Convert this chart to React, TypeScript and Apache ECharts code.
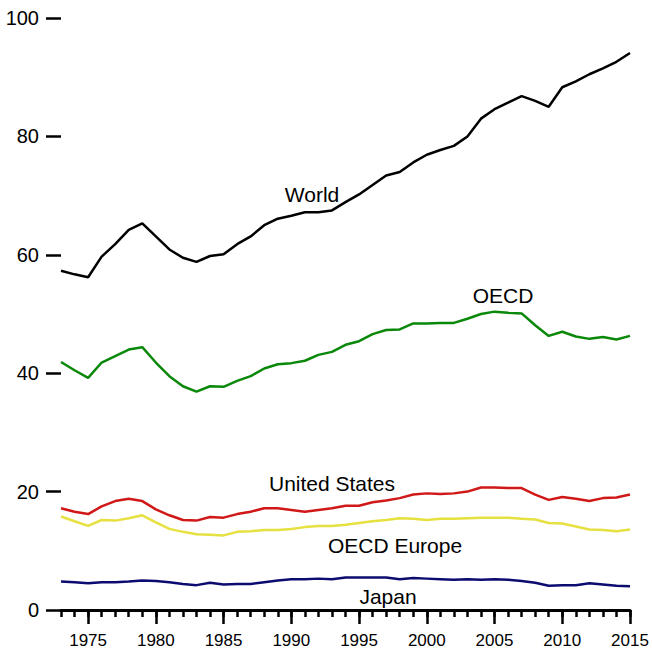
import React, { useEffect, useRef } from "react";
import * as echarts from "echarts";

const years: string[] = [];
for (let y = 1973; y <= 2015; y++) years.push(String(y));

const world = [57.3, 56.7, 56.2, 59.7, 61.8, 64.2, 65.3, 63.1, 60.9, 59.5, 58.8, 59.8, 60.1, 61.8, 63.1, 65.0, 66.1, 66.6, 67.2, 67.2, 67.5, 68.9, 70.2, 71.8, 73.4, 74.0, 75.6, 76.9, 77.7, 78.4, 80.0, 83.0, 84.6, 85.7, 86.8, 86.0, 85.0, 88.3, 89.3, 90.5, 91.5, 92.6, 94.1];
const oecd = [41.9, 40.5, 39.2, 41.8, 42.9, 44.0, 44.4, 41.8, 39.5, 37.8, 36.9, 37.8, 37.7, 38.7, 39.5, 40.8, 41.5, 41.7, 42.1, 43.1, 43.6, 44.8, 45.4, 46.6, 47.3, 47.4, 48.4, 48.4, 48.5, 48.5, 49.2, 50.0, 50.4, 50.2, 50.1, 48.1, 46.3, 47.0, 46.2, 45.8, 46.1, 45.7, 46.3];
const unitedStates = [17.2, 16.6, 16.2, 17.5, 18.4, 18.8, 18.4, 17.0, 16.0, 15.2, 15.1, 15.7, 15.6, 16.2, 16.6, 17.2, 17.2, 16.9, 16.6, 16.9, 17.2, 17.6, 17.6, 18.2, 18.5, 18.9, 19.5, 19.7, 19.6, 19.7, 20.0, 20.7, 20.7, 20.6, 20.6, 19.5, 18.6, 19.1, 18.8, 18.4, 18.9, 19.0, 19.5];
const oecdEurope = [15.8, 15.0, 14.2, 15.2, 15.1, 15.5, 16.0, 14.8, 13.7, 13.2, 12.8, 12.7, 12.6, 13.2, 13.3, 13.5, 13.5, 13.7, 14.0, 14.2, 14.2, 14.4, 14.7, 15.0, 15.2, 15.5, 15.4, 15.2, 15.4, 15.4, 15.5, 15.6, 15.6, 15.6, 15.4, 15.3, 14.7, 14.6, 14.1, 13.6, 13.5, 13.3, 13.6];
const japan = [4.8, 4.7, 4.5, 4.7, 4.7, 4.8, 5.0, 4.9, 4.7, 4.4, 4.2, 4.6, 4.3, 4.4, 4.4, 4.7, 5.0, 5.2, 5.2, 5.3, 5.2, 5.5, 5.5, 5.5, 5.5, 5.2, 5.4, 5.3, 5.2, 5.1, 5.2, 5.1, 5.2, 5.1, 4.9, 4.6, 4.1, 4.2, 4.2, 4.5, 4.3, 4.1, 4.0];

const seriesNames = ["World", "OECD", "United States", "OECD Europe", "Japan"];
const seriesData = [world, oecd, unitedStates, oecdEurope, japan];
const seriesColors = ["#000000", "#0a880a", "#d01818", "#e6e040", "#0c0c70"];
const labelPos: [number, number][] = [[312, 194], [503, 295], [332, 483], [395, 545], [388, 596]];

const FONT = "'Liberation Sans', Arial, sans-serif";

export default function App() {
  const ref = useRef<HTMLDivElement>(null);
  useEffect(() => {
    if (!ref.current) return;
    const chart = echarts.init(ref.current, null, { renderer: "svg" });
    chart.setOption({
      animation: false,
      backgroundColor: "#ffffff",
      grid: { left: 61, right: 22, top: 18, bottom: 44 },
      xAxis: [
        {
          type: "category",
          data: years,
          boundaryGap: false,
          axisLine: { show: true, lineStyle: { color: "#000", width: 3 } },
          axisTick: { show: true, interval: 0, length: 7, lineStyle: { color: "#000", width: 2.5 } },
          axisLabel: {
            interval: (i: number, v: string) => Number(v) % 5 === 0,
            color: "#000",
            fontSize: 17,
            fontFamily: FONT,
            margin: 22,
          },
          splitLine: { show: false },
        },
        {
          type: "category",
          data: years,
          boundaryGap: false,
          position: "bottom",
          axisLine: { show: false },
          axisTick: {
            show: true,
            interval: (i: number, v: string) => Number(v) % 5 === 0,
            length: 14,
            lineStyle: { color: "#000", width: 2.5 },
          },
          axisLabel: { show: false },
          splitLine: { show: false },
        },
      ],
      yAxis: {
        type: "value",
        min: 0,
        max: 100,
        interval: 20,
        axisLine: { show: false },
        axisTick: { show: true, length: 15, lineStyle: { color: "#000", width: 2.5 } },
        axisLabel: { color: "#000", fontSize: 20, fontFamily: FONT, margin: 22 },
        splitLine: { show: false },
      },
      series: seriesNames.map((name, i) => ({
        name,
        type: "line",
        data: seriesData[i],
        showSymbol: false,
        symbol: "none",
        lineStyle: { color: seriesColors[i], width: 2.5 },
        z: 5 - i,
      })),
      graphic: seriesNames.map((name, i) => ({
        type: "text",
        x: labelPos[i][0],
        y: labelPos[i][1],
        style: {
          text: name,
          fill: "#000",
          font: `21px ${FONT}`,
          textAlign: "center",
          textVerticalAlign: "middle",
        },
      })),
    });
    return () => chart.dispose();
  }, []);
  return (
    <div
      ref={ref}
      style={{ position: "fixed", left: 0, top: 0, width: 652, height: 654, background: "#fff" }}
    />
  );
}
